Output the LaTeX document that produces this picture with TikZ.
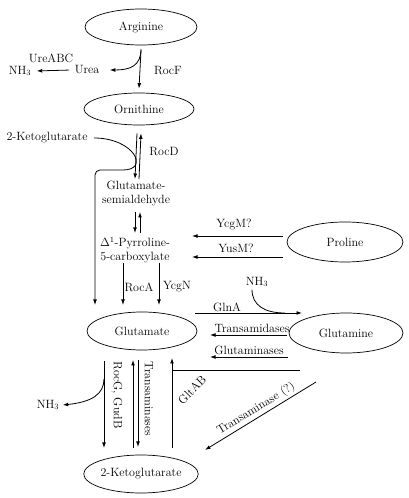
\documentclass[tikz,border=0pt]{standalone}
\usetikzlibrary{shapes.geometric,arrows.meta,calc}
\begin{document}
\begin{tikzpicture}[x=1pt,y=1pt,
  every node/.style={font=\fontsize{12}{14}\selectfont},
  ell/.style={draw, ellipse, inner sep=0pt, line width=0.7pt},
  ln/.style={line width=0.8pt},
  arr/.style={line width=0.8pt, -{Latex[length=5.5pt,width=3.8pt]}},
  arrR/.style={line width=0.8pt, {Latex[length=5.5pt,width=3.8pt]}-}]
\useasboundingbox (0,0) rectangle (408,498);

% main metabolites
\node[ell, minimum width=112, minimum height=36] (arg) at (141,471) {Arginine};
\node[ell, minimum width=110, minimum height=32] (orn) at (139,389) {Ornithine};
\node[ell, minimum width=110, minimum height=38] (glu) at (142,167) {Glutamate};
\node[ell, minimum width=116, minimum height=40] (pro) at (345,256) {Proline};
\node[ell, minimum width=114, minimum height=40] (gln) at (346,165) {Glutamine};
\node[ell, minimum width=110, minimum height=38] (kg) at (141,24) {2-Ketoglutarate};

% plain text compounds and enzyme labels
\node (urea) at (87,428) {Urea};
\node (nh3a) at (20,427) {NH$_3$};
\node (ureabc) at (51,440) {UreABC};
\node (rocf) at (168,427) {RocF};
\node (kgl) at (47,360) {2-Ketoglutarate};
\node (rocd) at (164,346) {RocD};
\node[align=center] (gsa) at (136,304) {Glutamate-\\semialdehyde};
\node[align=center] (p5c) at (135,248) {$\Delta^{1}$-Pyrroline-\\5-carboxylate};
\node (ycgm) at (234,273) {YcgM?};
\node (yusm) at (236,250) {YusM?};
\node (roca) at (139,211) {RocA};
\node (ycgn) at (177,211) {YcgN};
\node (nh3b) at (257,216) {NH$_3$};
\node (glna) at (227,191) {GlnA};
\node (tamd) at (252,170) {Transamidases};
\node (gmin) at (249,148) {Glutaminases};
\node (nh3c) at (48,93) {NH$_3$};
\node[rotate=-90] (rocg) at (117,103) {RocG, GudB};
\node[rotate=-90] (tams) at (149,99) {Transaminases};
\node[rotate=45] (gltab) at (192,108) {GltAB};

% free-end coordinates
\coordinate (kgA) at (95,193);
\coordinate (ycgmS) at (283,262); \coordinate (ycgmE) at (192,262);
\coordinate (yusmS) at (283,241); \coordinate (yusmE) at (192,241);
\coordinate (rocaS) at (123,235); \coordinate (rocaE) at (123,193);
\coordinate (ycgnS) at (159,235); \coordinate (ycgnE) at (159,193);
\coordinate (glnaS) at (195,185); \coordinate (glnaE) at (302,185);
\coordinate (tamdS) at (287,163); \coordinate (tamdE) at (210,163);
\coordinate (gminS) at (288,141); \coordinate (gminE) at (210,141);
\coordinate (gltS) at (300,128); \coordinate (gltJ) at (172,128);
\coordinate (gltB) at (172,50); \coordinate (gltT) at (172,140);
\coordinate (taqS) at (316,116); \coordinate (taqE) at (205,48);

% Arginine -> Ornithine (+ Urea)
\draw[arr] ($(arg.south)+(0,-5)$) -- ($(orn.north)+(0,4)$);
\draw[arr, shorten >=7pt] (141,449) .. controls (141,432) and (130,428) .. (urea.east);
\draw[arr, shorten <=2pt, shorten >=2pt] (urea.west) -- (nh3a.east);

% Ornithine <-> Glutamate-semialdehyde
\draw[arr] ($(orn.south)+(-2,-8)$) -- ($(gsa.north)+(-1,-1)$);
\draw[arr] ($(gsa.north)+(3,-1)$) -- ($(orn.south)+(2,-8)$);
% 2-Ketoglutarate hook
\draw[arr, rounded corners=5pt] ($(kgl.east)+(3,0)$) .. controls (134,360) and (150,328) .. (118,328) -- (95,328) -- (kgA);

% GSA <-> P5C
\draw[arr] (135,286) -- (135,265);
\draw[arr] (140,265) -- (140,286);

% Proline -> P5C
\draw[arr] (ycgmS) -- (ycgmE);
\draw[arr] (yusmS) -- (yusmE);

% P5C -> Glutamate
\draw[arr] (rocaS) -- (rocaE);
\draw[arr] (ycgnS) -- (ycgnE);

% Glutamate <-> Glutamine
\draw[arr] (glnaS) -- (glnaE);
\draw[ln] ($(nh3b.south)+(-5,1)$) .. controls (252,193) and (264,185) .. (285,185);
\draw[arr] (tamdS) -- (tamdE);
\draw[arr] (gminS) -- (gminE);

% GltAB
\draw[ln] (gltS) -- (gltJ);
\draw[arr] (gltB) -- (gltT);

% Transaminase (?)
\draw[arrR] (taqE) -- node[sloped, above, inner sep=2pt] {Transaminase (?)} (taqS);

% Glutamate <-> 2-Ketoglutarate
\draw[arr] (104,137) -- (104,50);
\draw[arr] (104,119) .. controls (104,104) and (92,96) .. (nh3c.east);
\draw[arr] (133,50) -- (133,138);
\draw[arr] (138,138) -- (138,51);
\end{tikzpicture}
\end{document}
